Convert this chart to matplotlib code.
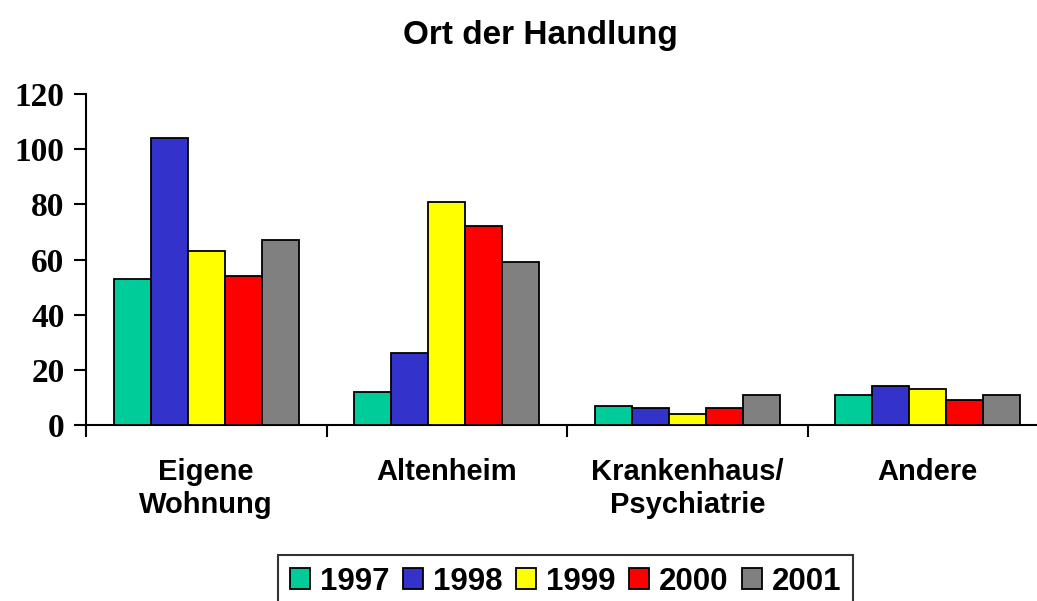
import matplotlib
matplotlib.use("Agg")
import matplotlib.pyplot as plt
import numpy as np

categories = ["Eigene\nWohnung", "Altenheim", "Krankenhaus/\nPsychiatrie", "Andere"]
years = ["1997", "1998", "1999", "2000", "2001"]
values = {
    "1997": [53, 12, 7, 11],
    "1998": [104, 26, 6, 14],
    "1999": [63, 81, 4, 13],
    "2000": [54, 72, 6, 9],
    "2001": [67, 59, 11, 11],
}
colors = ["#00CC99", "#3333CC", "#FFFF00", "#FF0000", "#808080"]
yticks = [0, 20, 40, 60, 80, 100, 120]

W, H = 1037, 601
fig = plt.figure(figsize=(W / 100, H / 100), dpi=100)
ax = fig.add_axes([86 / W, 1 - 425 / H, (1048 - 86) / W, (425 - 94) / H])

x = np.arange(len(categories))
bw = 0.154
for i, (yr, c) in enumerate(zip(years, colors)):
    ax.bar(x + (i - 2) * bw, values[yr], width=bw, color=c, edgecolor="black",
           linewidth=1.3, label=yr, zorder=3)

ax.set_xlim(-0.5, len(categories) - 0.5)
ax.set_ylim(0, 120)
ax.set_yticks(yticks)
ax.set_yticklabels([str(v) for v in yticks], fontfamily="Liberation Serif",
                   fontweight="bold", fontsize=24)
ax.tick_params(axis="y", direction="out", length=8.5, width=1.5, pad=7)

ax.set_xticks(np.arange(-0.5, len(categories), 1.0))
ax.set_xticklabels([])
ax.tick_params(axis="x", which="major", direction="out", length=8.5, width=1.5)
ax.set_xticks(x, minor=True)
ax.set_xticklabels(categories, minor=True, fontfamily="Liberation Sans",
                   fontweight="bold", fontsize=21, linespacing=1.2)
ax.tick_params(axis="x", which="minor", length=0, pad=24)

for s in ["top", "right"]:
    ax.spines[s].set_visible(False)
for s in ["left", "bottom"]:
    ax.spines[s].set_linewidth(1.5)

fig.text(540 / W, 1 - 20 / H, "Ort der Handlung", ha="center", va="top",
         fontfamily="Liberation Sans", fontweight="bold", fontsize=24)

leg = fig.legend(loc="upper left", bbox_to_anchor=(278 / W, 1 - 555 / H),
                 borderaxespad=0, ncol=5, frameon=True, fancybox=False,
                 prop={"family": "Liberation Sans", "weight": "bold", "size": 22.5},
                 handlelength=0.65, handleheight=0.65, handletextpad=0.32,
                 columnspacing=0.42, borderpad=0.38)
leg.get_frame().set_edgecolor("black")
leg.get_frame().set_linewidth(1.5)

fig.savefig("out.png", dpi=100)
